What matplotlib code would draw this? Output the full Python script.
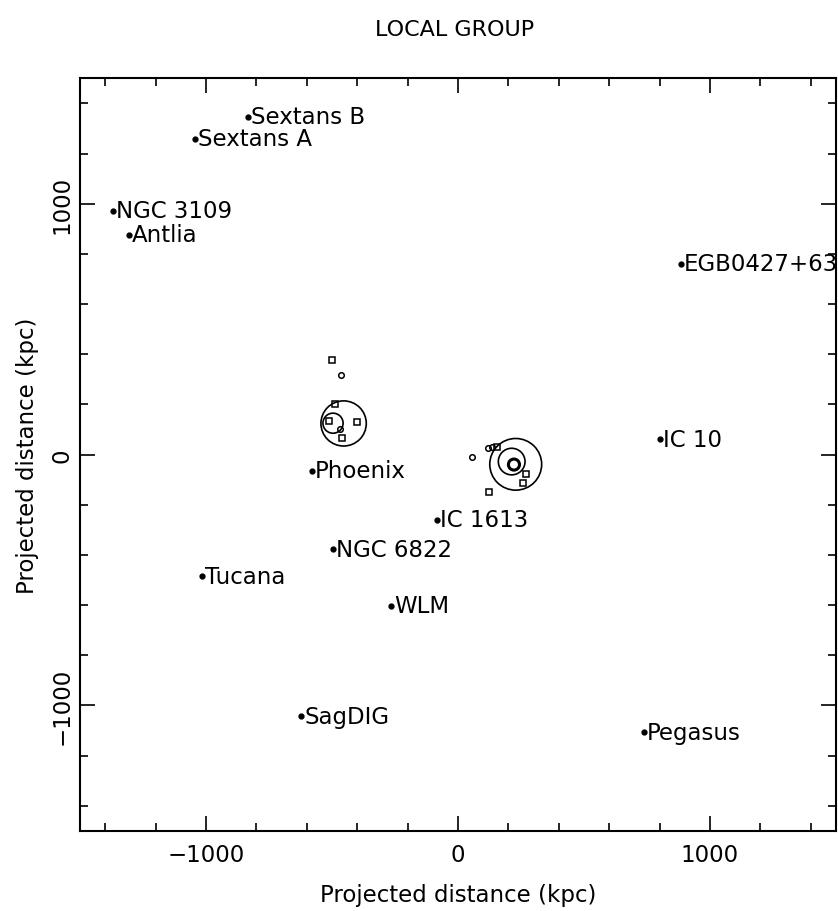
import matplotlib.pyplot as plt
from matplotlib.patches import Circle
from matplotlib.ticker import MultipleLocator

# labelled galaxies (kpc)
names = ["Sextans B", "Sextans A", "NGC 3109", "Antlia", "EGB0427+63", "IC 10",
         "Phoenix", "IC 1613", "NGC 6822", "Tucana", "WLM", "SagDIG", "Pegasus"]
gal_x = [-833, -1044, -1369, -1306, 885, 802, -579, -83, -496, -1016, -266, -623, 738]
gal_y = [1347, 1259, 972, 876, 761, 60, -64, -259, -378, -486, -602, -1044, -1108]

# subgroup circles around the Milky Way and M31
circ_x = [-454, -496, 229, 213, 222]
circ_y = [124, 125, -39, -28, -40]
circ_r = [90, 40, 103, 53, 22]

# satellites, open squares
sq_x = [-499, -488, -402, -511, -459, 154, 270, 259, 124]
sq_y = [375, 200, 131, 134, 65, 32, -78, -114, -151]

# satellites, open circles
oc_x = [-465, -468, 54, 120, 134]
oc_y = [318, 100, -8, 28, 32]

plt.rcParams['font.family'] = 'DejaVu Sans'

fig = plt.figure(figsize=(8.38, 9.12), dpi=100)
ax = fig.add_axes([0.0955, 0.088, 0.9021, 0.825])

ax.plot(gal_x, gal_y, 'o', color='black', markersize=3.5)
for n, x, y in zip(names, gal_x, gal_y):
    ax.text(x + 12, y, n, fontsize=16.5, va='center', ha='left', clip_on=False)

for x, y, r in zip(circ_x, circ_y, circ_r):
    lw = 2.2 if r < 30 else 1.2
    ax.add_patch(Circle((x, y), r, fill=False, edgecolor='black', linewidth=lw))

ax.plot(sq_x, sq_y, 's', markerfacecolor='none', markeredgecolor='black',
        markersize=4, markeredgewidth=1.1)
ax.plot(oc_x, oc_y, 'o', markerfacecolor='none', markeredgecolor='black',
        markersize=4, markeredgewidth=1.1)

ax.set_xlim(-1500, 1500)
ax.set_ylim(-1500, 1500)
ax.xaxis.set_major_locator(MultipleLocator(1000))
ax.xaxis.set_minor_locator(MultipleLocator(200))
ax.yaxis.set_major_locator(MultipleLocator(1000))
ax.yaxis.set_minor_locator(MultipleLocator(200))
ax.tick_params(which='both', direction='in', top=True, right=True, width=1.2)
ax.tick_params(which='major', length=11, labelsize=16.5)
ax.tick_params(which='minor', length=6)
ax.tick_params(axis='x', pad=9)
ax.tick_params(axis='y', pad=5)
for lab in ax.get_yticklabels():
    lab.set_rotation(90)
    lab.set_va('center')
for s in ax.spines.values():
    s.set_linewidth(1.5)

ax.set_xlabel("Projected distance (kpc)", fontsize=16.5, labelpad=12)
ax.set_ylabel("Projected distance (kpc)", fontsize=16.5, labelpad=8)
fig.text(0.542, 0.967, "LOCAL GROUP", fontsize=16, ha='center', va='center')

fig.savefig("out.png", dpi=100)
